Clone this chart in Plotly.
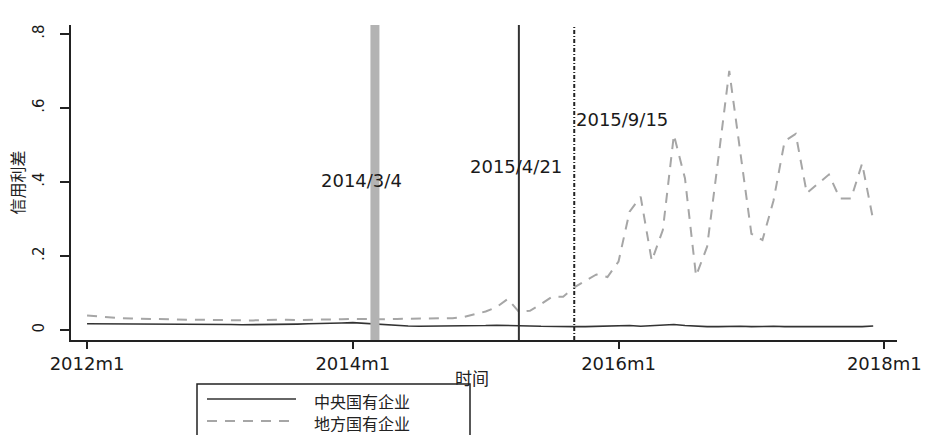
import pandas as pd
import plotly.graph_objects as go

# ---------------- data ----------------
start = pd.Period("2012-01", freq="M")
months = pd.period_range("2012-01", periods=72, freq="M")
month_labels = [f"{p.year}m{p.month}" for p in months]

central_soe = [0.017, 0.017, 0.017, 0.016, 0.017, 0.017, 0.017, 0.016, 0.016, 0.016,
               0.016, 0.016, 0.015, 0.015, 0.014, 0.014, 0.015, 0.016, 0.016, 0.016,
               0.017, 0.017, 0.018, 0.019, 0.020, 0.018, 0.015, 0.013, 0.012, 0.011,
               0.010, 0.010, 0.010, 0.010, 0.010, 0.011, 0.012, 0.013, 0.013, 0.012,
               0.011, 0.010, 0.009, 0.009, 0.009, 0.009, 0.010, 0.010, 0.012, 0.012,
               0.010, 0.011, 0.013, 0.015, 0.012, 0.010, 0.009, 0.009, 0.010, 0.010,
               0.009, 0.010, 0.010, 0.009, 0.009, 0.008, 0.008, 0.007, 0.008, 0.009,
               0.009, 0.011]

local_soe = [0.039, 0.036, 0.034, 0.032, 0.031, 0.030, 0.031, 0.030, 0.029, 0.028,
             0.028, 0.027, 0.027, 0.027, 0.026, 0.026, 0.027, 0.027, 0.028, 0.027,
             0.027, 0.028, 0.029, 0.029, 0.030, 0.029, 0.029, 0.029, 0.030, 0.030,
             0.031, 0.031, 0.031, 0.032, 0.035, 0.042, 0.050, 0.062, 0.084, 0.049,
             0.052, 0.070, 0.090, 0.090, 0.115, 0.133, 0.150, 0.143, 0.185, 0.320,
             0.360, 0.187, 0.270, 0.527, 0.410, 0.146, 0.225, 0.460, 0.700, 0.480,
             0.260, 0.243, 0.350, 0.510, 0.530, 0.370, 0.395, 0.420, 0.355, 0.355,
             0.450, 0.297]

series_names = ["中央国有企业", "地方国有企业"]

event_labels = ["2014/3/4", "2015/4/21", "2015/9/15"]
event_months = ["2014-03", "2015-04", "2015-09"]
event_label_y = [0.403, 0.443, 0.568]

x_tick_months = ["2012-01", "2014-01", "2016-01", "2018-01"]
x_tick_labels = ["2012m1", "2014m1", "2016m1", "2018m1"]
y_tick_vals = [0, 0.2, 0.4, 0.6, 0.8]
y_tick_text = ["0", ".2", ".4", ".6", ".8"]

x_title = "时间"
y_title = "信用利差"

# ---------------- figure ----------------
def mi(s):
    """month index relative to 2012m1"""
    return (pd.Period(s, freq="M") - start).n

x = [(p - start).n for p in months]

NUM_FONT = "DejaVu Sans"
CJK_FONT = "Noto Sans CJK SC"

fig = go.Figure()
fig.add_trace(go.Scatter(x=x, y=central_soe, mode="lines", name=series_names[0],
                         line=dict(color="#333333", width=1.6), showlegend=False))
fig.add_trace(go.Scatter(x=x, y=local_soe, mode="lines", name=series_names[1],
                         line=dict(color="#a6a6a6", width=2, dash="10px,8px"),
                         showlegend=False))

# event lines
ev_styles = [
    dict(color="#b3b3b3", width=9),
    dict(color="#333333", width=2),
    dict(color="#222222", width=2, dash="4px,2px,1px,2px"),
]
for m, st in zip(event_months, ev_styles):
    fig.add_shape(type="line", xref="x", yref="paper", x0=mi(m), x1=mi(m),
                  y0=0, y1=1, line=st, layer="above")

# event labels
anchors = ["center", "center", "left"]
offsets = [-1.25, -0.25, 0]
for lab, m, yy, anc, off in zip(event_labels, event_months, event_label_y, anchors, offsets):
    fig.add_annotation(x=mi(m) + off, y=yy, xref="x", yref="y", text=lab,
                       showarrow=False, xanchor=anc, yanchor="middle",
                       font=dict(family=NUM_FONT, size=18, color="#1a1a1a"))

# axis titles
fig.add_annotation(x=0.485, y=-0.1175, xref="paper", yref="paper", text=x_title,
                   showarrow=False, xanchor="center", yanchor="middle",
                   font=dict(family=CJK_FONT, size=17, color="#222222"))
fig.add_annotation(x=-0.0654, y=0.50, xref="paper", yref="paper", text=y_title,
                   showarrow=False, textangle=-90, xanchor="center", yanchor="middle",
                   font=dict(family=CJK_FONT, size=16, color="#222222"))

# manual legend (paper coords: plot area x 71..897, y 25..340)
def px_x(p):
    return (p - 71) / 826.0

def px_y(p):
    return (340 - p) / 315.0

fig.add_shape(type="rect", xref="paper", yref="paper",
              x0=px_x(197), x1=px_x(470), y0=px_y(437), y1=px_y(384),
              line=dict(color="#222222", width=1.5), fillcolor="white")
leg_rows = [399, 421]
leg_text_rows = [401, 423]
leg_styles = [dict(color="#333333", width=1.6),
              dict(color="#a6a6a6", width=2, dash="10px,8px")]
for name, ry, ty, st in zip(series_names, leg_rows, leg_text_rows, leg_styles):
    fig.add_shape(type="line", xref="paper", yref="paper",
                  x0=px_x(207), x1=px_x(296), y0=px_y(ry), y1=px_y(ry), line=st)
    fig.add_annotation(x=px_x(312), y=px_y(ty), xref="paper", yref="paper",
                       text=name, showarrow=False, xanchor="left", yanchor="middle",
                       font=dict(family=CJK_FONT, size=16, color="#222222"))

fig.update_layout(
    template="none",
    width=925, height=435,
    margin=dict(l=71, r=28, t=25, b=95, autoexpand=False),
    paper_bgcolor="white", plot_bgcolor="white",
    showlegend=False,
    xaxis=dict(range=[-1.45, 73.15], tickmode="array",
               tickvals=[mi(t) for t in x_tick_months], ticktext=x_tick_labels,
               showgrid=False, zeroline=False, showline=True, linecolor="#222222",
               linewidth=1.5, ticks="outside", ticklen=7, tickwidth=1.5,
               tickcolor="#222222", automargin=False,
               tickfont=dict(family=NUM_FONT, size=18, color="#1a1a1a")),
    yaxis=dict(range=[-0.027, 0.824], tickmode="array", tickvals=y_tick_vals,
               ticktext=y_tick_text, tickangle=-90, showgrid=False, zeroline=False,
               showline=True, linecolor="#222222", linewidth=1.5, ticks="outside",
               ticklen=9, tickwidth=1.5, tickcolor="#222222", automargin=False,
               ticklabelstandoff=10,
               tickfont=dict(family=NUM_FONT, size=15, color="#1a1a1a")),
)

fig.write_html("out.html")
